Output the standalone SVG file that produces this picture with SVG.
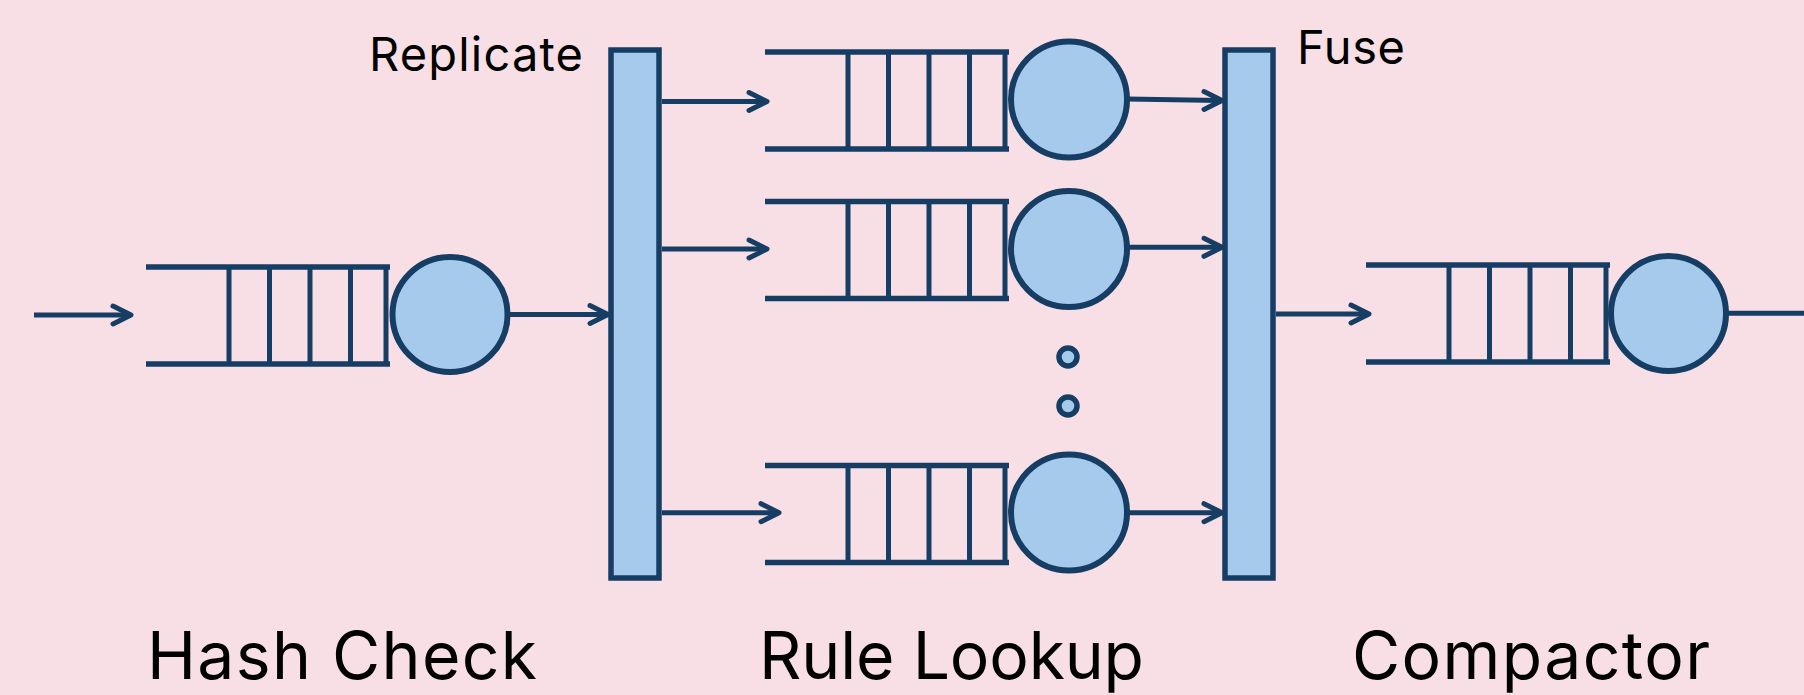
<svg xmlns="http://www.w3.org/2000/svg" width="1804" height="695" viewBox="0 0 1804 695">
<style>
.ln{stroke:#163E64;stroke-width:5.5;fill:none}
.vl{stroke:#163E64;stroke-width:5;fill:none}
.srv{fill:#A6CAEC;stroke:#163E64;stroke-width:6}
.bar{fill:#A6CAEC;stroke:#163E64;stroke-width:5.5}
.arr{stroke:#163E64;stroke-width:5;fill:none;stroke-linecap:butt}
.hd{stroke:#163E64;stroke-width:5;fill:none;stroke-linecap:round;stroke-linejoin:round}
.lbl{font-family:Inter,"Liberation Sans",sans-serif;fill:#000}
.small{font-size:47px}
.big{font-size:66px}
</style>
<defs>
<g id="queue">
<line class="ln" x1="0" y1="0" x2="244" y2="0"/>
<line class="ln" x1="0" y1="97" x2="244" y2="97"/>
<line class="vl" x1="83" y1="0" x2="83" y2="97"/>
<line class="vl" x1="123.5" y1="0" x2="123.5" y2="97"/>
<line class="vl" x1="164" y1="0" x2="164" y2="97"/>
<line class="vl" x1="204.5" y1="0" x2="204.5" y2="97"/>
<line class="vl" x1="240" y1="0" x2="240" y2="97"/>
</g>
</defs>
<rect x="0" y="0" width="1804" height="695" fill="#F8DFE5"/>

<g id="hash-check">
<use href="#queue" x="146" y="267"/>
<circle class="srv" cx="450" cy="314.5" r="57.5"/>
<text class="lbl big" x="147" y="679" textLength="390">Hash Check</text>
</g>

<g id="replicate">
<rect class="bar" x="611" y="50" width="48" height="528"/>
<text class="lbl small" x="369" y="71" textLength="214">Replicate</text>
</g>

<g id="rule-lookup-1">
<use href="#queue" x="765" y="52"/>
<circle class="srv" cx="1069" cy="99.5" r="58"/>
</g>
<g id="rule-lookup-2">
<use href="#queue" x="765" y="201.5"/>
<circle class="srv" cx="1069" cy="249" r="58"/>
</g>
<g id="ellipsis">
<circle class="bar" cx="1068" cy="357" r="9"/>
<circle class="bar" cx="1068" cy="406" r="9"/>
</g>
<g id="rule-lookup-3">
<use href="#queue" x="765" y="465.5"/>
<circle class="srv" cx="1069" cy="512.5" r="58"/>
<text class="lbl big" x="759" y="679" textLength="385">Rule Lookup</text>
</g>

<g id="fuse">
<rect class="bar" x="1225" y="50" width="48" height="528"/>
<text class="lbl small" x="1297" y="64" textLength="108">Fuse</text>
</g>

<g id="compactor">
<use href="#queue" x="1366" y="265"/>
<circle class="srv" cx="1668.5" cy="313.5" r="57.5"/>
<text class="lbl big" x="1352" y="679" textLength="358">Compactor</text>
</g>

<g id="connectors">
<path class="arr" d="M34,315 H129"/><path class="hd" d="M113,306 L131,315 L113,324"/>
<path class="arr" d="M508,314.5 H606"/><path class="hd" d="M590,305.5 L608,314.5 L590,323.5"/>
<path class="arr" d="M662,101.5 H765"/><path class="hd" d="M749,92.5 L767,101.5 L749,110.5"/>
<path class="arr" d="M662,249 H765"/><path class="hd" d="M749,240 L767,249 L749,258"/>
<path class="arr" d="M662,512.7 H777"/><path class="hd" d="M761,503.7 L779,512.7 L761,521.7"/>
<path class="arr" d="M1127,99 L1220,100.5"/><path class="hd" d="M1204,91.5 L1222,100.5 L1204,109.5"/>
<path class="arr" d="M1127,247.3 H1220"/><path class="hd" d="M1204,238.3 L1222,247.3 L1204,256.3"/>
<path class="arr" d="M1127,512.7 H1220"/><path class="hd" d="M1204,503.7 L1222,512.7 L1204,521.7"/>
<path class="arr" d="M1276,314 H1367"/><path class="hd" d="M1351,305 L1369,314 L1351,323"/>
<path class="arr" d="M1726,313.3 H1804"/>
</g>
</svg>
